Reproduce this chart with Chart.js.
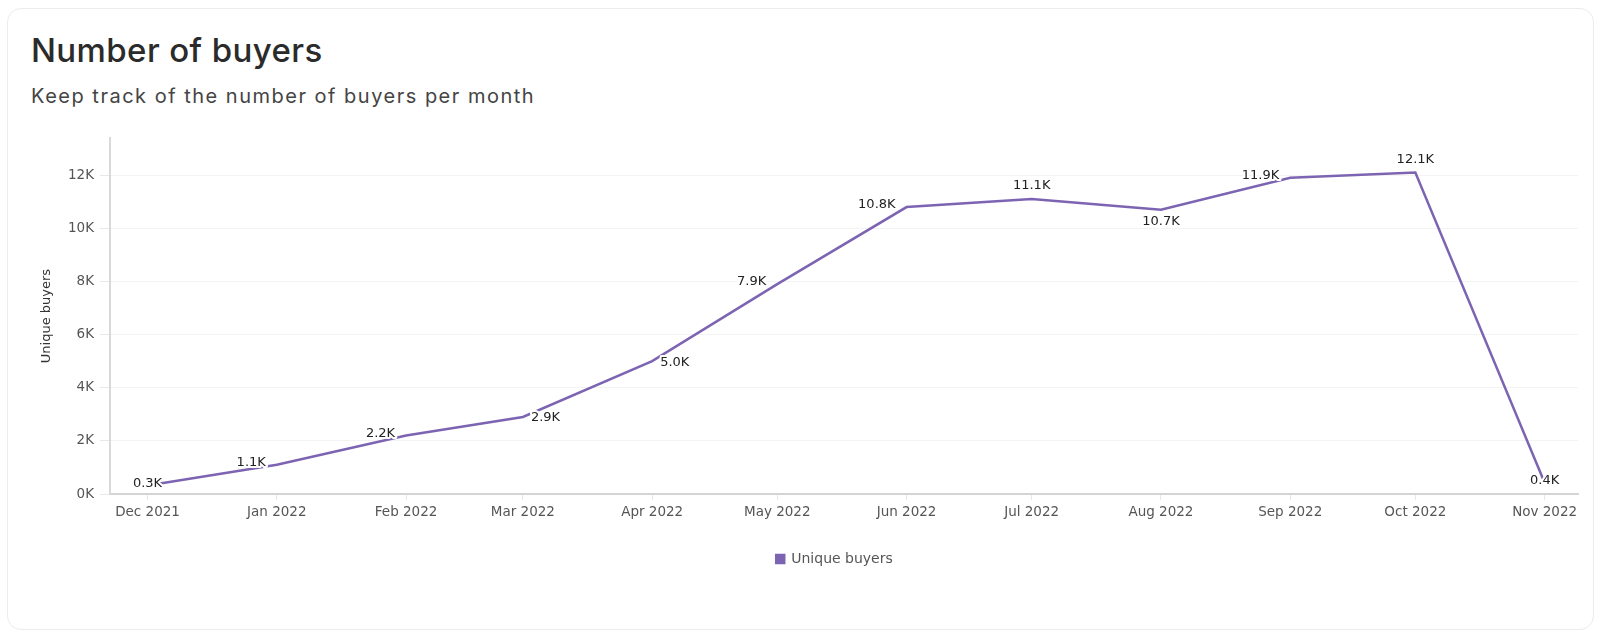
<!DOCTYPE html>
<html>
<head>
<meta charset="utf-8">
<script src="https://cdn.jsdelivr.net/npm/chart.js@4.4.1/dist/chart.umd.min.js"></script>
<style>
    html, body { margin: 0; padding: 0; background: #fff; }
    body { width: 1604px; height: 638px; position: relative; overflow: hidden; }
    .card {
        position: absolute; left: 7px; top: 8px; width: 1585px; height: 620px;
        border: 1px solid #ececec; border-radius: 14px; background: #fff;
    }
    h1 {
        position: absolute; left: 31px; top: 30px; margin: 0;
        font: 500 33px Inter, sans-serif; color: #2b2b2b; white-space: nowrap;
        letter-spacing: 0.4px;
    }
    .subtitle {
        position: absolute; left: 31px; top: 84px; margin: 0;
        font: 400 20px Inter, sans-serif; color: #444; white-space: nowrap;
        letter-spacing: 1.5px;
    }
    #chartWrap { position: absolute; left: 0; top: 0; width: 1604px; height: 638px; }
</style>
</head>
<body>
<div class="card"></div>
<h1>Number of buyers</h1>
<p class="subtitle">Keep track of the number of buyers per month</p>
<div id="chartWrap"><canvas id="buyersChart"></canvas></div>

<script>
// months (first day of each month) and what they show on the axis
const months = ['2021-12-01', '2022-01-01', '2022-02-01', '2022-03-01', '2022-04-01', '2022-05-01',
    '2022-06-01', '2022-07-01', '2022-08-01', '2022-09-01', '2022-10-01', '2022-11-01'];
const monthLabels = ['Dec 2021', 'Jan 2022', 'Feb 2022', 'Mar 2022', 'Apr 2022', 'May 2022',
    'Jun 2022', 'Jul 2022', 'Aug 2022', 'Sep 2022', 'Oct 2022', 'Nov 2022'];
const uniqueBuyers = [320, 1100, 2200, 2900, 5000, 7900, 10800, 11100, 10700, 11900, 12100, 420];
const yTicks = [0, 2000, 4000, 6000, 8000, 10000, 12000];
const xRange = ['2021-11-22', '2022-11-09'];
const yMax = 13400;

const ORIGIN = Date.UTC(2021, 11, 1);

function toDay(iso) {
    const [y, m, d] = iso.split('-').map(Number);
    return (Date.UTC(y, m - 1, d) - ORIGIN) / 86400000;
}

function formatK(value) {
    return (value / 1000).toFixed(1) + 'K';
}

// where each value label sits relative to its point
const labelPlacement = ['center', 'left', 'left', 'right', 'right', 'left',
    'left', 'top', 'bottom', 'left', 'top', 'center'];

const valueLabels = {
    id: 'valueLabels',
    afterDatasetsDraw(chart) {
        const ctx = chart.ctx;
        const meta = chart.getDatasetMeta(0);
        ctx.save();
        ctx.font = '13px "DejaVu Sans"';
        ctx.textBaseline = 'middle';
        ctx.lineJoin = 'round';
        meta.data.forEach((pt, i) => {
            const text = formatK(uniqueBuyers[i]);
            let x = pt.x, y = pt.y;
            switch (labelPlacement[i]) {
                case 'left': ctx.textAlign = 'right'; x -= 11; y -= 2; break;
                case 'right': ctx.textAlign = 'left'; x += 8; y += 1; break;
                case 'top': ctx.textAlign = 'center'; y -= 13; break;
                case 'bottom': ctx.textAlign = 'center'; y += 12; break;
                default: ctx.textAlign = 'center'; y -= 2;
            }
            ctx.strokeStyle = '#fff';
            ctx.lineWidth = 4;
            ctx.strokeText(text, x, y);
            ctx.fillStyle = '#222';
            ctx.fillText(text, x, y);
        });
        ctx.restore();
    }
};

// the legend sits a bit right of the canvas centre
const legendShift = {
    id: 'legendShift',
    afterLayout(chart) {
        const legend = chart.legend;
        legend.left += 28;
        legend.right += 28;
    }
};

document.addEventListener('DOMContentLoaded', () => {
    const lineColor = '#7d64b2';
    const ctx = document.getElementById('buyersChart').getContext('2d');

    new Chart(ctx, {
        type: 'line',
        data: {
            datasets: [{
                label: 'Unique buyers',
                data: months.map((m, i) => ({ x: toDay(m), y: uniqueBuyers[i] })),
                borderColor: lineColor,
                backgroundColor: lineColor,
                borderWidth: 2.5,
                pointRadius: 0,
                tension: 0
            }]
        },
        options: {
            responsive: true,
            maintainAspectRatio: false,
            animation: false,
            layout: { padding: { left: 35, right: 26, top: 138, bottom: 62 } },
            scales: {
                x: {
                    type: 'linear',
                    min: toDay(xRange[0]),
                    max: toDay(xRange[1]),
                    afterBuildTicks: axis => {
                        axis.ticks = months.map(m => ({ value: toDay(m) }));
                    },
                    afterFit: axis => { axis.height = 48; },
                    ticks: {
                        autoSkip: false,
                        maxRotation: 0,
                        padding: 4,
                        color: '#555',
                        font: { family: 'DejaVu Sans', size: 13.5 },
                        callback: (value, index) => monthLabels[index]
                    },
                    grid: { drawOnChartArea: false, drawTicks: true, tickLength: 6, tickColor: '#e6e6e6' },
                    border: { color: '#d4d4d4', width: 2 }
                },
                y: {
                    min: 0,
                    max: yMax,
                    afterBuildTicks: axis => {
                        axis.ticks = yTicks.map(v => ({ value: v }));
                    },
                    afterFit: axis => { axis.width = 75; },
                    ticks: {
                        padding: 6,
                        color: '#555',
                        font: { family: 'DejaVu Sans', size: 13.5 },
                        callback: value => (value / 1000) + 'K'
                    },
                    grid: { color: '#f3f3f3', tickLength: 10, tickColor: '#e8e8e8' },
                    border: { color: '#d9d9d9', width: 2 },
                    title: {
                        display: true,
                        text: 'Unique buyers',
                        color: '#333',
                        font: { family: 'DejaVu Sans', size: 13 }
                    }
                }
            },
            plugins: {
                legend: {
                    position: 'bottom',
                    labels: {
                        boxWidth: 8,
                        boxHeight: 8,
                        padding: 10,
                        color: '#555',
                        font: { family: 'DejaVu Sans', size: 14 }
                    }
                },
                tooltip: { enabled: false }
            }
        },
        plugins: [valueLabels, legendShift]
    });
});
</script>
</body>
</html>
